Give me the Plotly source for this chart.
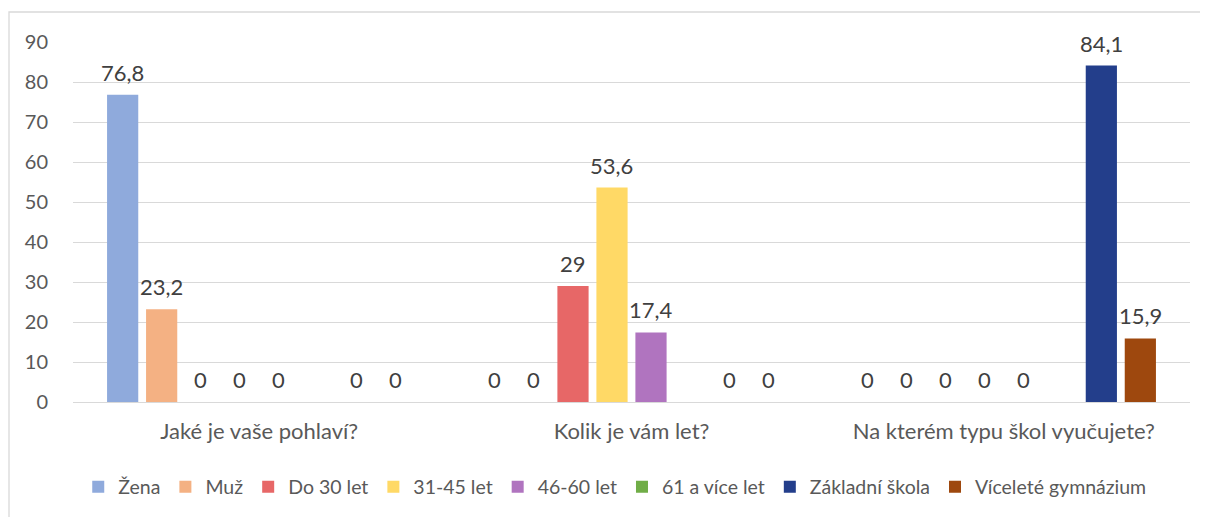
import plotly.graph_objects as go

categories = ["Jaké je vaše pohlaví?", "Kolik je vám let?", "Na kterém typu škol vyučujete?"]
series_names = ["Žena", "Muž", "Do 30 let", "31-45 let", "46-60 let", "61 a více let",
                "Základní škola", "Víceleté gymnázium"]
zena = [76.8, 0, 0]
muz = [23.2, 0, 0]
do30 = [0, 29, 0]
let31_45 = [0, 53.6, 0]
let46_60 = [0, 17.4, 0]
let61 = [None, None, None]
zakladni = [0, 0, 84.1]
vicelete = [0, 0, 15.9]
series_values = [zena, muz, do30, let31_45, let46_60, let61, zakladni, vicelete]
colors = ["#8FAADC", "#F4B183", "#E76767", "#FFD966", "#B074BF", "#70AD47", "#233E8B", "#9E480E"]
y_ticks = [0, 10, 20, 30, 40, 50, 60, 70, 80, 90]

# page body has an 8px margin, so figure coordinates are offset by 8px
W, H = 1208, 517
ml, mr, mt, mb = 65, 26, 34, 123
plot_w = W - ml - mr
plot_h = H - mt - mb
cat_w = plot_w / len(categories)
bargap = 0.162
slot = cat_w * (1 - bargap) / len(series_names)

FONT = "Lato"
fig = go.Figure()
annotations = []
for i, (name, vals, col) in enumerate(zip(series_names, series_values, colors)):
    fig.add_trace(go.Bar(name=name, x=categories, y=vals, marker_color=col,
                         marker_line_width=0, hoverinfo="x+y+name"))
    for c, v in zip(categories, vals):
        if v is None:
            continue
        txt = ("%g" % v).replace(".", ",")
        annotations.append(dict(x=c, y=v, xref="x", yref="y", text=txt, showarrow=False,
                                yanchor="bottom", xanchor="center",
                                xshift=(i - (len(series_names) - 1) / 2) * slot, yshift=7,
                                font=dict(family=FONT, size=22, color="#404040")))

fig.update_layout(
    width=W, height=H,
    margin=dict(l=ml, r=mr, t=mt, b=mb, pad=0),
    paper_bgcolor="white", plot_bgcolor="white",
    barmode="group", bargap=bargap, bargroupgap=0.2,
    font=dict(family=FONT, size=20, color="#595959"),
    showlegend=True,
    legend=dict(orientation="h", x=0.485, xanchor="center", y=-(479 - (H - mb)) / plot_h,
                yanchor="middle", font=dict(family=FONT, size=19.5, color="#595959"),
                itemwidth=30, tracegroupgap=0, traceorder="normal"),
    annotations=annotations,
    shapes=[dict(type="rect", xref="paper", yref="paper",
                 x0=(1 - ml) / plot_w, x1=(W + 20 - ml) / plot_w,
                 y0=-(mb + 20) / plot_h, y1=(H - mb - 4) / plot_h,
                 line=dict(color="#D9D9D9", width=1.3), fillcolor="rgba(0,0,0,0)")],
)
fig.update_xaxes(showgrid=False, showline=True, linecolor="#D9D9D9", linewidth=1.3,
                 ticks="", ticklabelstandoff=9, tickfont=dict(size=22, color="#595959"))
fig.update_yaxes(range=[0, 90], tickvals=y_ticks, showgrid=True, gridcolor="#D9D9D9", gridwidth=1.3,
                 zeroline=False, showline=False, ticks="", ticklabelstandoff=24,
                 tickfont=dict(size=20, color="#595959"))

fig.write_html("out.html")
